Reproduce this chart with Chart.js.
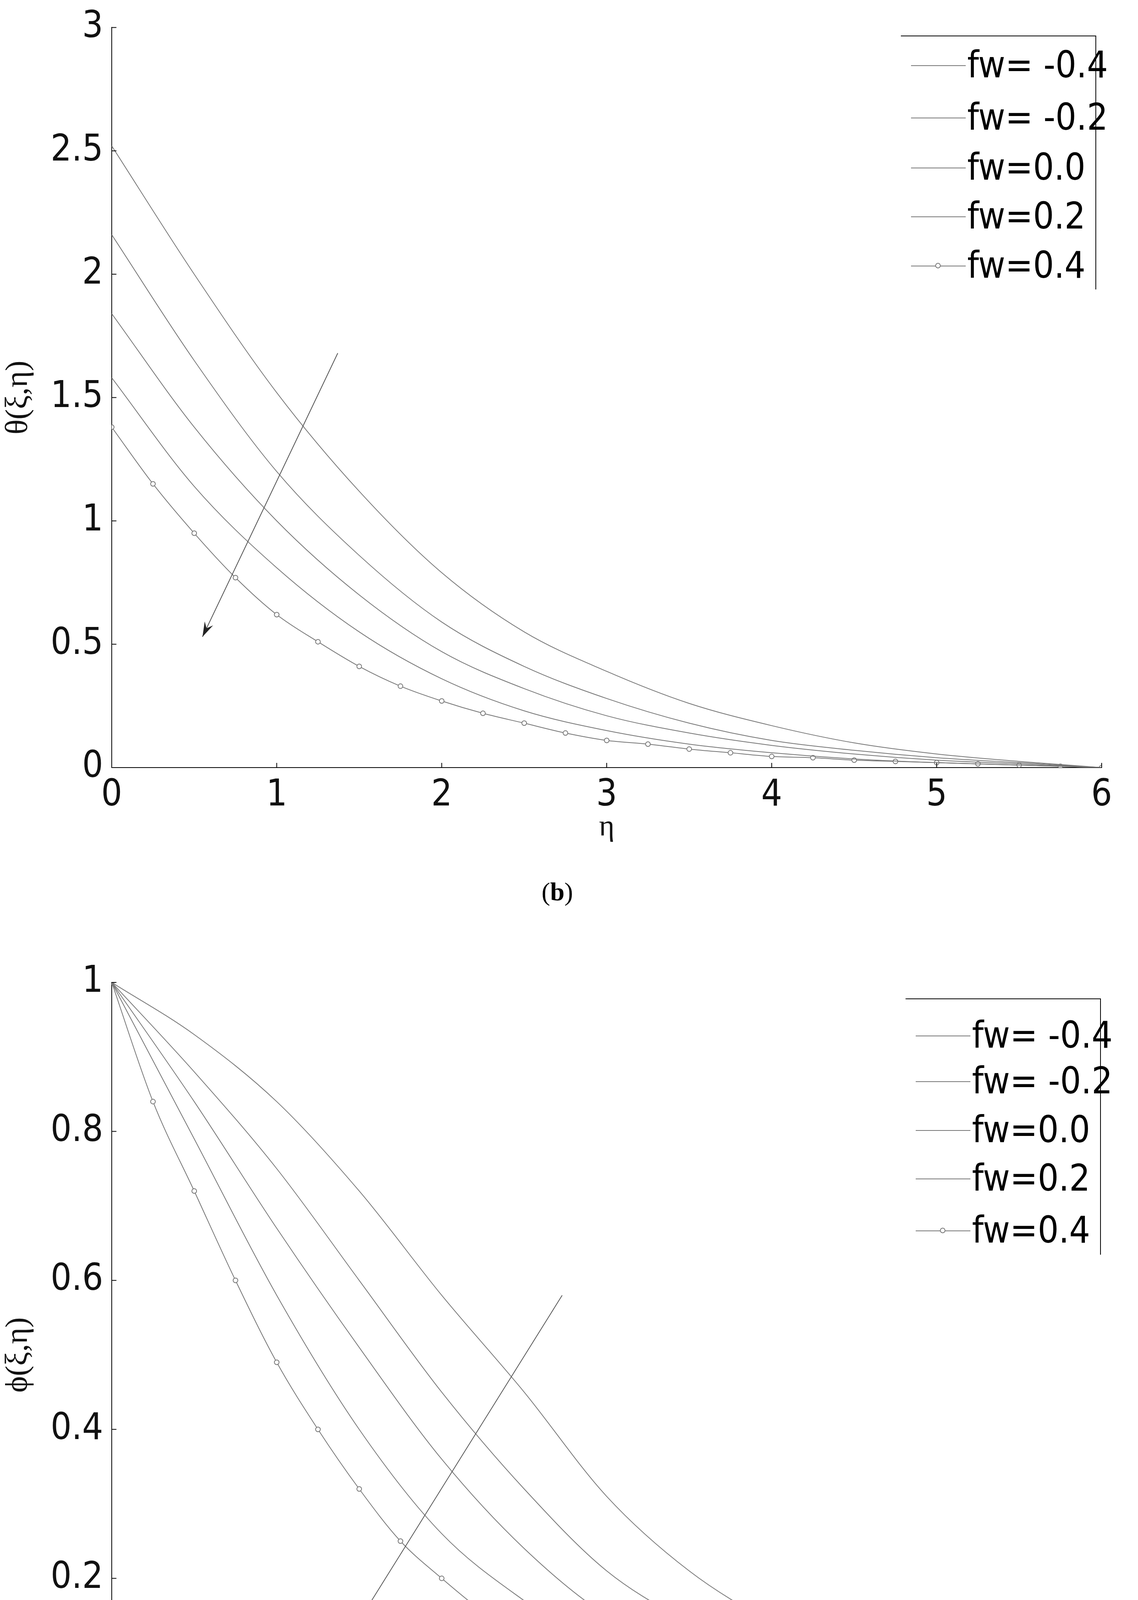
<!DOCTYPE html>
<html><head><meta charset="utf-8">
<script src="https://cdn.jsdelivr.net/npm/chart.js@4"></script>
<style>
body{margin:0;background:#fff;width:2913px;height:4861px;position:relative;overflow:hidden}
canvas{position:absolute;left:0}
.cap{position:absolute;font-family:"Liberation Serif","DejaVu Serif",serif;font-size:66px;width:2913px;text-align:center;left:-30px}
.leg{position:absolute;border-top:2px solid #000;border-right:2px solid #000;font-family:"Liberation Sans Narrow","DejaVu Sans Condensed",sans-serif;font-size:94px}
.row{position:absolute;left:0;height:0}
.row span{position:absolute;left:170px;top:-56px;white-space:nowrap}
.row i{position:absolute;left:26px;width:140px;top:0;border-top:2px solid #777}
.row b{position:absolute;left:88px;top:-7px;width:10px;height:10px;border:2px solid #777;border-radius:50%;background:#fff}
</style></head><body>
<canvas id="c1"></canvas><canvas id="c2"></canvas>
<div class="cap" style="top:2245px">(<b>b</b>)</div>
<div class="cap" style="top:4710px">(<b>c</b>)</div>
<script>
const seriesNames=["fw= -0.4","fw= -0.2","fw=0.0","fw=0.2","fw=0.4"];
const etaCoarse=[0,0.5,1,1.5,2,2.5,3,3.5,4,4.5,5,5.5,6];
const etaFine=[0,0.25,0.5,0.75,1,1.25,1.5,1.75,2,2.25,2.5,2.75,3,3.25,3.5,3.75,4,4.25,4.5,4.75,5,5.25,5.5,5.75,6];
const thetaM04=[2.52,2.0,1.52,1.12,0.79,0.55,0.39,0.26,0.17,0.10,0.055,0.025,0];
const thetaM02=[2.16,1.65,1.2,0.86,0.59,0.41,0.28,0.18,0.11,0.07,0.04,0.02,0];
const theta00=[1.84,1.38,1.0,0.70,0.47,0.32,0.21,0.14,0.09,0.055,0.03,0.015,0];
const theta02=[1.58,1.14,0.81,0.55,0.36,0.23,0.15,0.095,0.06,0.035,0.02,0.01,0];
const theta04=[1.38,1.15,0.95,0.77,0.62,0.51,0.41,0.33,0.27,0.22,0.18,0.14,0.11,0.095,0.075,0.06,0.045,0.04,0.03,0.025,0.02,0.015,0.01,0.005,0];
const phiM04=[1,0.93,0.84,0.72,0.58,0.45,0.31,0.21,0.14,0.085,0.045,0.02,0];
const phiM02=[1,0.88,0.75,0.60,0.45,0.32,0.21,0.14,0.085,0.05,0.03,0.015,0];
const phi00=[1,0.84,0.67,0.51,0.36,0.24,0.15,0.10,0.06,0.035,0.02,0.01,0];
const phi02=[1,0.79,0.58,0.40,0.26,0.17,0.10,0.065,0.04,0.025,0.015,0.008,0];
const phi04=[1,0.84,0.72,0.60,0.49,0.40,0.32,0.25,0.20,0.155,0.12,0.09,0.068,0.05,0.038,0.03,0.022,0.016,0.011,0.008,0.006,0.004,0.003,0.002,0];
const arrowTheta=[[1.37,1.68],[0.55,0.53]];
const arrowPhi=[[2.73,0.58],[1.49,0.14]];
const FONT='"Liberation Sans Narrow","DejaVu Sans Condensed",sans-serif';
const pts=(xs,ys)=>xs.map((x,i)=>({x,y:ys[i]}));
function ds(i,xs,ys){const m=i===4;return{label:seriesNames[i],data:pts(xs,ys),borderColor:'#777',borderWidth:2,
 pointRadius:m?6:0,pointBorderColor:'#777',pointBackgroundColor:'#fff',pointBorderWidth:2,tension:0.4,cubicInterpolationMode:'monotone',fill:false};}
const arrowPlugin={id:'arrow',afterDatasetsDraw(ch,a,opts){const c=ch.ctx,xs=ch.scales.x,ys=ch.scales.y;
 const [p,q]=opts.pts;const x1=xs.getPixelForValue(p[0]),y1=ys.getPixelForValue(p[1]),x2=xs.getPixelForValue(q[0]),y2=ys.getPixelForValue(q[1]);
 c.save();c.strokeStyle='#555';c.lineWidth=2;c.beginPath();c.moveTo(x1,y1);c.lineTo(x2,y2);c.stroke();
 const ang=Math.atan2(y2-y1,x2-x1),L=40;c.fillStyle='#222';c.beginPath();c.moveTo(x2,y2);
 c.lineTo(x2-L*Math.cos(ang-0.3),y2-L*Math.sin(ang-0.3));c.lineTo(x2-L*0.6*Math.cos(ang),y2-L*0.6*Math.sin(ang));
 c.lineTo(x2-L*Math.cos(ang+0.3),y2-L*Math.sin(ang+0.3));c.closePath();c.fill();
 c.strokeStyle='#000';c.lineWidth=2;xs.ticks.forEach(t=>{const x=xs.getPixelForValue(t.value);c.beginPath();c.moveTo(x,ch.chartArea.bottom);c.lineTo(x,ch.chartArea.bottom-12);c.stroke();});
 ys.ticks.forEach(t=>{const y=ys.getPixelForValue(t.value);c.beginPath();c.moveTo(ch.chartArea.left,y);c.lineTo(ch.chartArea.left+12,y);c.stroke();});
 c.restore();}};
function make(id,top,h,datasets,ymax,ystep,ytitle,padTop,axisH,padBottom,arrow){
 const cv=document.getElementById(id);cv.style.top=top+'px';cv.width=2913;cv.height=h;cv.style.width='2913px';cv.style.height=h+'px';
 new Chart(cv,{type:'line',data:{datasets},plugins:[arrowPlugin],options:{responsive:false,animation:false,devicePixelRatio:1,
  layout:{padding:{top:padTop,right:93,left:0,bottom:padBottom}},
  plugins:{legend:{display:false},tooltip:{enabled:false},arrow:{pts:arrow}},
  scales:{x:{type:'linear',min:0,max:6,grid:{display:false},border:{color:'#000',width:2},
    ticks:{stepSize:1,color:'#111',font:{family:FONT,size:94},padding:8},
    title:{display:true,text:'η',font:{family:'"Liberation Serif",serif',size:76},color:'#111',padding:0},
    afterFit(s){s.height=axisH;}},
   y:{min:0,max:ymax,grid:{display:false},border:{color:'#000',width:2},
    ticks:{stepSize:ystep,color:'#111',font:{family:FONT,size:94},padding:14,callback:v=>String(+v.toFixed(2))},
    title:{display:true,text:ytitle,font:{family:'"Liberation Serif",serif',size:80},color:'#111',padding:0},
    afterFit(s){s.width=286;}}}}});
}
make('c1',0,2400,[ds(0,etaCoarse,thetaM04),ds(1,etaCoarse,thetaM02),ds(2,etaCoarse,theta00),ds(3,etaCoarse,theta02),ds(4,etaFine,theta04)],
 3,0.5,'θ(ξ,η)',55,200,235,arrowTheta);
make('c2',2430,2431,[ds(0,etaCoarse,phiM04),ds(1,etaCoarse,phiM02),ds(2,etaCoarse,phi00),ds(3,etaCoarse,phi02),ds(4,etaFine,phi04)],
 1,0.2,'ϕ(ξ,η)',85,218,221,arrowPhi);
function legend(left,top,w,h,rows){const d=document.createElement('div');d.className='leg';
 Object.assign(d.style,{left:left+'px',top:top+'px',width:w+'px',height:h+'px'});
 seriesNames.forEach((n,i)=>{const r=document.createElement('div');r.className='row';r.style.top=rows[i]+'px';
  r.innerHTML='<i></i>'+(i===4?'<b></b>':'')+'<span>'+n+'</span>';d.appendChild(r);});document.body.appendChild(d);}
legend(2306,91,498,648,[74,208,336,461,587]);
legend(2318,2556,498,654,[93,210,335,459,592]);
</script></body></html>
